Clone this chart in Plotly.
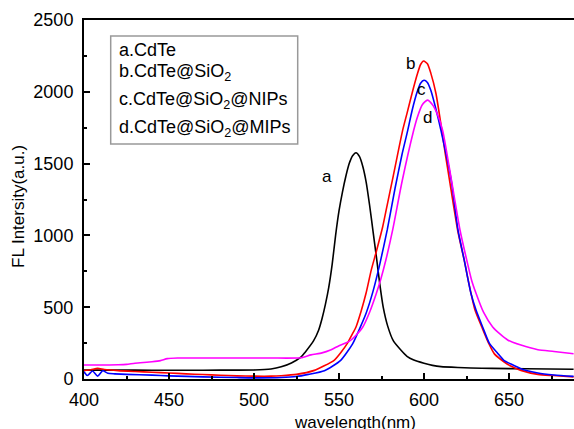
import plotly.graph_objects as go

# ---- data ----
wl_a = [400, 420, 440, 460, 480, 500, 510, 516, 522, 527.6, 530, 535, 538, 540, 542, 544, 546, 548,
        550, 552, 554, 556, 558, 560, 562, 564, 566, 568, 570, 572, 574, 576, 578.6, 582, 586.5, 590,
        594, 600, 605, 610, 620, 627.6, 640, 660, 688]
fl_a = [62, 62, 61, 61, 62, 63, 70, 85, 112, 152, 185, 265, 340, 420, 520, 640, 800, 1000, 1170,
        1300, 1410, 1500, 1555, 1576, 1550, 1480, 1370, 1210, 1030, 850, 660, 500, 370, 265, 200, 158,
        132, 110, 95, 86, 80, 77, 74, 71, 68]

wl_b = [400, 404, 408, 412, 420, 430, 440, 450, 460, 470, 480, 490, 500, 510, 516, 525, 535.5, 541,
        547.3, 551, 555, 557.5, 560, 563, 565.9, 569, 572, 575.7, 578.5, 581.5, 587.4, 590, 593, 596,
        598, 599.8, 602, 604, 607, 610, 612.5, 615, 619.8, 623.7, 626, 630, 634, 638, 641.4, 647, 651,
        657, 667, 676, 688]
fl_b = [58, 64, 74, 66, 58, 52, 47, 42, 36, 31, 26, 22, 20, 20, 23, 32, 60, 90, 132, 183, 250, 305,
        362, 472, 597, 760, 890, 1060, 1220, 1390, 1730, 1850, 1990, 2120, 2190, 2214, 2195, 2130,
        1990, 1770, 1570, 1385, 1036, 826, 688, 480, 362, 250, 175, 120, 90, 60, 32, 24, 15]

wl_c = [400, 402, 405, 408, 411, 414, 418, 425, 440, 450, 470, 490, 500, 516, 525, 532, 541.4, 551,
        558, 562.4, 566, 570, 574, 578.4, 583, 587, 590.4, 593, 596, 598, 600, 602, 604, 607, 610, 616,
        620, 623.7, 627.6, 630.6, 634.5, 638.4, 643.3, 647, 651, 657, 667, 676.5, 688]
fl_c = [50, 24, 56, 20, 58, 40, 36, 32, 27, 22, 15, 10, 8, 10, 17, 32, 58, 130, 245, 358, 460, 610,
        800, 1040, 1330, 1560, 1730, 1870, 2000, 2060, 2080, 2065, 2010, 1880, 1730, 1385, 1036, 826,
        597, 480, 362, 250, 180, 130, 105, 72, 42, 28, 18]

wl_d = [400, 410, 420, 425, 430, 440, 445, 449, 455, 470, 490, 510, 527.6, 533.5, 540, 545, 550, 556,
        560, 564, 568, 571.8, 574.7, 577.6, 581.6, 587, 593.9, 596, 599, 602, 605, 608, 611, 616, 621.2,
        625.7, 628, 630.6, 635, 640.4, 645, 649.2, 657, 667, 676.5, 688]
fl_d = [97, 97, 99, 102, 110, 120, 128, 142, 146, 146, 146, 146, 148, 168, 182, 202, 232, 262, 305,
        362, 465, 590, 700, 830, 1040, 1370, 1730, 1820, 1910, 1942, 1910, 1840, 1730, 1395, 1036, 800,
        688, 597, 465, 362, 310, 272, 236, 204, 192, 176]

series = [
    ("a.CdTe", wl_a, fl_a, "#000000"),
    ("b.CdTe@SiO<sub>2</sub>", wl_b, fl_b, "#FF0000"),
    ("c.CdTe@SiO<sub>2</sub>@NIPs", wl_c, fl_c, "#0000FF"),
    ("d.CdTe@SiO<sub>2</sub>@MIPs", wl_d, fl_d, "#FF00FF"),
]
curve_tags = ["a", "b", "c", "d"]
tag_x = [542.8, 591.8, 598.6, 602.2]
tag_y = [1409, 2198, 2013, 1822]

FONT = "Arial, Liberation Sans, sans-serif"

fig = go.Figure()
for name, x, y, col in series:
    fig.add_trace(go.Scatter(x=x, y=y, mode="lines", name=name,
                             line=dict(color=col, width=1.6, shape="spline", smoothing=0.6),
                             showlegend=False))

W, H = 574, 429
ML, MT, MB = 84, 20, 50
PW, PH = W - ML, H - MT - MB


def px(xp):
    return (xp - ML) / PW


def py(yp):
    return (H - MB - yp) / PH


fig.update_layout(
    width=W, height=H,
    margin=dict(l=ML, r=0, t=MT, b=MB, pad=0),
    paper_bgcolor="white", plot_bgcolor="white",
    font=dict(family=FONT, size=18, color="black"),
    xaxis=dict(range=[400, 400 + PW / 1.7], showgrid=False, zeroline=False,
               showline=True, linecolor="black", linewidth=2, mirror=True,
               ticks="inside", ticklen=6, tickwidth=1.5, tickcolor="black",
               tick0=400, dtick=50, ticklabelstandoff=3,
               minor=dict(ticks="inside", ticklen=3, tickwidth=1.5, tickcolor="black", dtick=25, tick0=400),
               tickfont=dict(size=18)),
    yaxis=dict(range=[0, 2500], showgrid=False, zeroline=False,
               showline=True, linecolor="black", linewidth=2,
               ticks="inside", ticklen=6, tickwidth=1.5, tickcolor="black",
               tick0=0, dtick=500, ticklabelstandoff=5,
               minor=dict(ticks="inside", ticklen=3, tickwidth=1.5, tickcolor="black", dtick=250),
               tickfont=dict(size=18)),
)

# legend box
fig.add_shape(type="rect", xref="paper", yref="paper",
              x0=px(110.7), x1=px(297.7), y0=py(144), y1=py(36),
              line=dict(color="#999999", width=1.5), fillcolor="rgba(0,0,0,0)")
legend_y = [50, 72, 100.5, 128]
for (name, _, _, _), ly in zip(series, legend_y):
    fig.add_annotation(text=name, xref="paper", yref="paper", x=px(117), y=py(ly),
                       xanchor="left", yanchor="middle", showarrow=False,
                       font=dict(size=18, family=FONT))

for t, xx, yy in zip(curve_tags, tag_x, tag_y):
    fig.add_annotation(text=t, x=xx, y=yy, showarrow=False, font=dict(size=17, family=FONT))

fig.add_annotation(text="wavelength(nm)", xref="paper", yref="paper", x=px(355), y=py(411),
                   xanchor="center", yanchor="top", showarrow=False, font=dict(size=17, family=FONT))
fig.add_annotation(text="FL Intersity(a.u.)", xref="paper", yref="paper", x=px(18.5), y=py(206.5),
                   xanchor="center", yanchor="middle", textangle=-90, showarrow=False,
                   font=dict(size=17, family=FONT))

fig.write_html("out.html", config={"displayModeBar": False},
               post_script="document.body.style.margin='0';document.body.style.padding='0';"
                           "document.body.style.overflow='hidden';")
